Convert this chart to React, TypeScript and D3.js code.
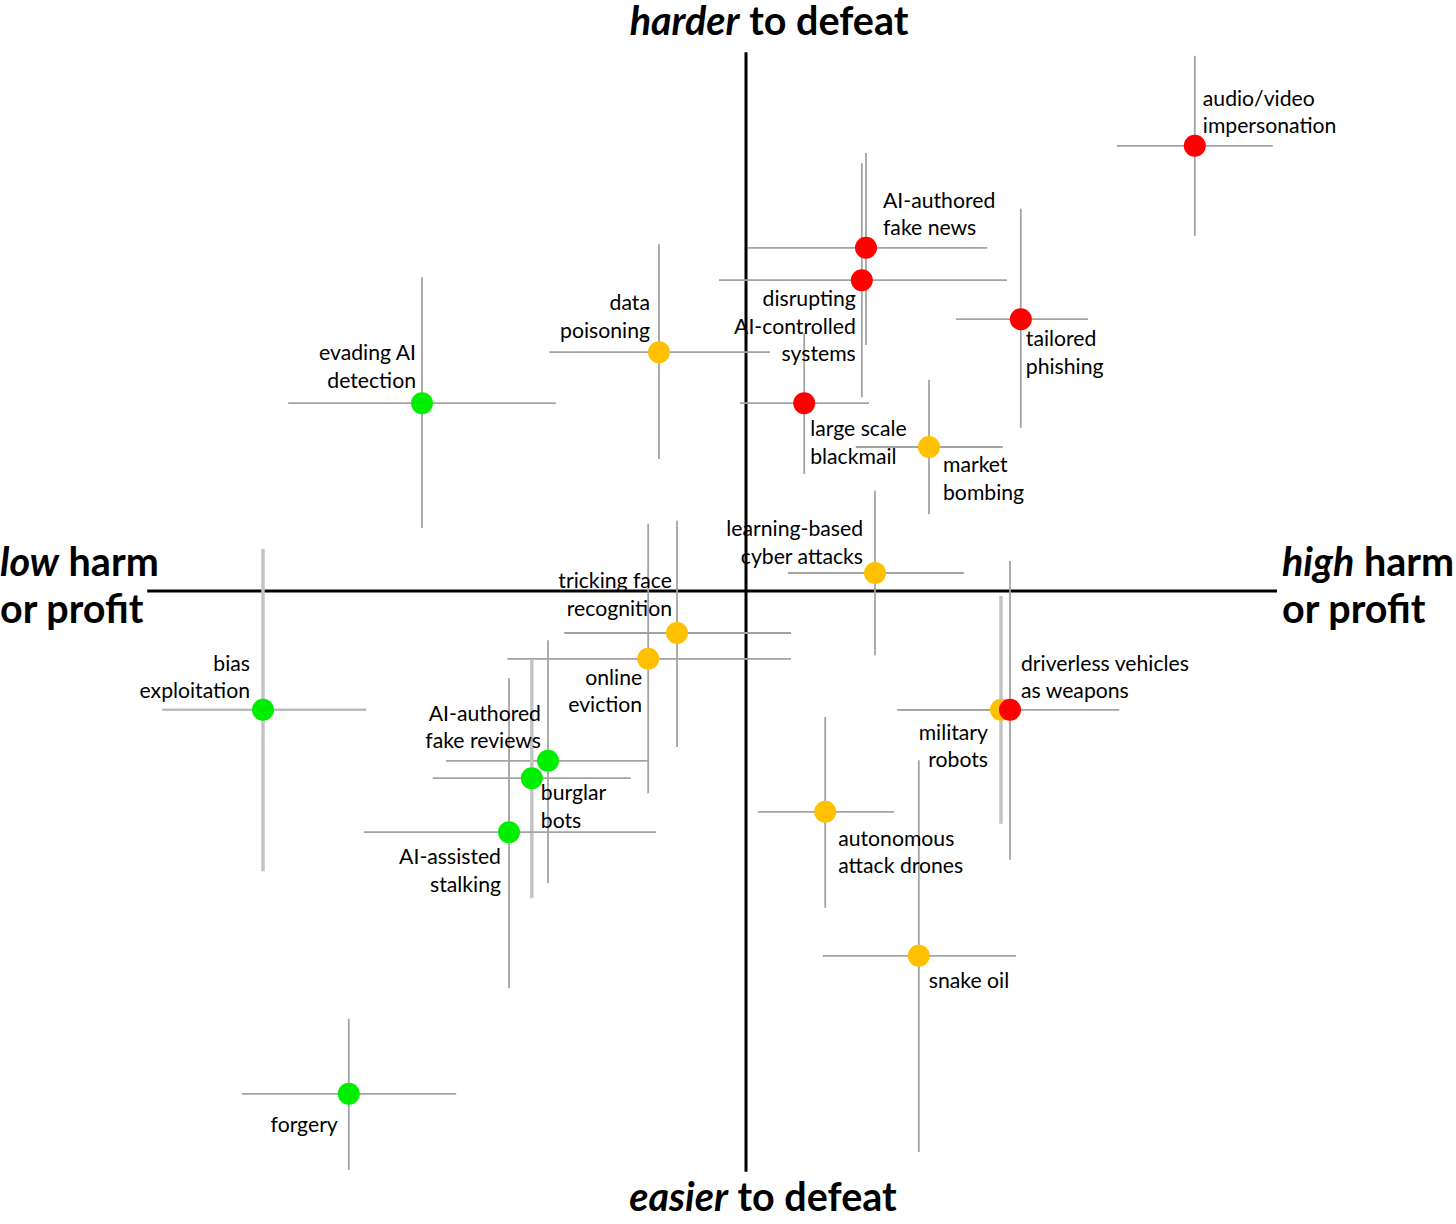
import React from "react";
import * as d3 from "d3";

// ---- data (harm/profit on x, difficulty to defeat on y; scale -10..10) ----
const names = [
  "audio/video impersonation",
  "AI-authored fake news",
  "disrupting AI-controlled systems",
  "tailored phishing",
  "large scale blackmail",
  "market bombing",
  "data poisoning",
  "evading AI detection",
  "learning-based cyber attacks",
  "tricking face recognition",
  "online eviction",
  "AI-authored fake reviews",
  "burglar bots",
  "AI-assisted stalking",
  "bias exploitation",
  "forgery",
  "military robots",
  "driverless vehicles as weapons",
  "autonomous attack drones",
  "snake oil",
];
const labelLines = [
  ["audio/video", "impersonation"],
  ["AI-authored", "fake news"],
  ["disrupting", "AI-controlled", "systems"],
  ["tailored", "phishing"],
  ["large scale", "blackmail"],
  ["market", "bombing"],
  ["data", "poisoning"],
  ["evading AI", "detection"],
  ["learning-based", "cyber attacks"],
  ["tricking face", "recognition"],
  ["online", "eviction"],
  ["AI-authored", "fake reviews"],
  ["burglar", "bots"],
  ["AI-assisted", "stalking"],
  ["bias", "exploitation"],
  ["forgery"],
  ["military", "robots"],
  ["driverless vehicles", "as weapons"],
  ["autonomous", "attack drones"],
  ["snake oil"],
];
const severity = ["high", "high", "high", "high", "high", "medium", "medium", "low", "medium", "medium",
  "medium", "low", "low", "low", "low", "low", "medium", "high", "medium", "medium"];
const harm = [7.48, 2.0, 1.93, 4.58, 0.97, 3.05, -1.45, -5.4, 2.15, -1.15, -1.63, -3.3, -3.57, -3.95, -8.05, -6.62, 4.25, 4.4, 1.32, 2.88];
const harmLo = [6.18, 0.03, -0.45, 3.5, -0.1, 1.83, -3.28, -7.63, 0.7, -3.03, -3.98, -5.0, -5.22, -6.37, -9.73, -8.4, 2.55, 2.52, 0.2, 1.28];
const harmHi = [8.78, 4.02, 4.35, 5.7, 2.05, 4.28, 0.4, -3.17, 3.63, 0.75, 0.75, -1.62, -1.92, -1.5, -6.33, -4.83, 4.4, 6.22, 2.47, 4.5];
const defeat = [7.42, 5.72, 5.18, 4.53, 3.13, 2.4, 3.98, 3.13, 0.3, -0.7, -1.13, -2.83, -3.12, -4.02, -1.98, -8.38, -1.98, -1.98, -3.68, -6.08];
const defeatLo = [5.92, 4.1, 3.23, 2.72, 1.95, 1.28, 2.2, 1.05, -1.07, -2.6, -3.37, -4.87, -5.12, -6.62, -4.67, -9.65, -3.88, -4.48, -5.28, -9.35];
const defeatHi = [8.92, 7.3, 7.13, 6.37, 4.3, 3.52, 5.78, 5.23, 1.67, 1.17, 1.12, -0.82, -1.15, -1.45, 0.7, -7.13, -0.08, 0.5, -2.1, -2.82];
const xAxisLow = ["low", " harm", "or profit"];
const xAxisHigh = ["high", " harm", "or profit"];
const yAxisTop = ["harder", " to defeat"];
const yAxisBottom = ["easier", " to defeat"];

// ---- layout (label placement relative to each point) ----
const labelLayout: { anchor: string; dx: number; dy: number }[] = [
  { anchor: "start", dx: 8, dy: -48 },
  { anchor: "start", dx: 17, dy: -48 },
  { anchor: "end", dx: -6, dy: 18 },
  { anchor: "start", dx: 5, dy: 19 },
  { anchor: "start", dx: 6, dy: 25 },
  { anchor: "start", dx: 14, dy: 17 },
  { anchor: "end", dx: -9, dy: -50 },
  { anchor: "end", dx: -6, dy: -51 },
  { anchor: "end", dx: -12, dy: -45 },
  { anchor: "end", dx: -5, dy: -53 },
  { anchor: "end", dx: -6, dy: 18 },
  { anchor: "end", dx: -7, dy: -48 },
  { anchor: "start", dx: 9, dy: 14 },
  { anchor: "end", dx: -8, dy: 24 },
  { anchor: "end", dx: -13, dy: -47 },
  { anchor: "end", dx: -11, dy: 30 },
  { anchor: "end", dx: -13, dy: 22 },
  { anchor: "start", dx: 11, dy: -47 },
  { anchor: "start", dx: 13, dy: 26 },
  { anchor: "start", dx: 10, dy: 24 },
];
const softWhiskers = new Set([12, 14, 16]);

const W = 1456;
const H = 1224;
const FONT = "Lato, 'Open Sans', sans-serif";
const LABEL_SIZE = 21.2;
const TITLE_SIZE = 39.5;

export default function App() {
  const x = d3.scaleLinear().domain([-10, 10]).range([146, 1346]);
  const y = d3.scaleLinear().domain([-10, 10]).range([1191, -9]);
  const color = d3.scaleOrdinal<string, string>().domain(["high", "medium", "low"]).range(["#ff0000", "#ffc000", "#00ee00"]);

  const idx = d3.range(names.length);
  const lineH = 27.5;

  return (
    <svg width={W} height={H} style={{ position: "absolute", left: 0, top: 0, background: "#fff" }} fontFamily={FONT}>
      {/* axes */}
      <line x1={x(-9.98)} x2={x(8.85)} y1={y(0)} y2={y(0)} stroke="#000" strokeWidth={3} />
      <line x1={x(0)} x2={x(0)} y1={y(8.98)} y2={y(-9.68)} stroke="#000" strokeWidth={3} />

      {/* whiskers */}
      {idx.map((i) => {
        const soft = softWhiskers.has(i);
        const st = soft ? "#c4c4c4" : "#a3a3a3";
        const sw = soft ? 3.5 : 1.8;
        return (
          <g key={"w" + i}>
            <line x1={x(harmLo[i])} x2={x(harmHi[i])} y1={y(defeat[i])} y2={y(defeat[i])} stroke={i === 14 ? "#bdbdbd" : "#a3a3a3"} strokeWidth={i === 14 ? 2.5 : 1.8} />
            <line x1={x(harm[i])} x2={x(harm[i])} y1={y(defeatHi[i])} y2={y(defeatLo[i])} stroke={st} strokeWidth={sw} />
          </g>
        );
      })}

      {/* dots */}
      {idx.map((i) => (
        <circle key={"c" + i} cx={x(harm[i])} cy={y(defeat[i])} r={11} fill={color(severity[i])} />
      ))}

      {/* labels */}
      {idx.map((i) => {
        const L = labelLayout[i];
        return (
          <text key={"t" + i} x={x(harm[i]) + L.dx} textAnchor={L.anchor} fontSize={LABEL_SIZE} fill="#000">
            {labelLines[i].map((ln, k) => (
              <tspan key={k} x={x(harm[i]) + L.dx} y={y(defeat[i]) + L.dy + k * lineH} dominantBaseline="central">
                {ln}
              </tspan>
            ))}
          </text>
        );
      })}

      {/* axis titles */}
      <text x={769} y={35} textAnchor="middle" fontSize={TITLE_SIZE} fontWeight="bold">
        <tspan fontStyle="italic">{yAxisTop[0]}</tspan>
        <tspan>{yAxisTop[1]}</tspan>
      </text>
      <text x={763} y={1211} textAnchor="middle" fontSize={TITLE_SIZE} fontWeight="bold">
        <tspan fontStyle="italic">{yAxisBottom[0]}</tspan>
        <tspan>{yAxisBottom[1]}</tspan>
      </text>
      <text x={0} y={576} fontSize={TITLE_SIZE} fontWeight="bold">
        <tspan fontStyle="italic">{xAxisLow[0]}</tspan>
        <tspan>{xAxisLow[1]}</tspan>
      </text>
      <text x={0} y={623} fontSize={TITLE_SIZE} fontWeight="bold">{xAxisLow[2]}</text>
      <text x={1282} y={576} fontSize={TITLE_SIZE} fontWeight="bold">
        <tspan fontStyle="italic">{xAxisHigh[0]}</tspan>
        <tspan>{xAxisHigh[1]}</tspan>
      </text>
      <text x={1282} y={623} fontSize={TITLE_SIZE} fontWeight="bold">{xAxisHigh[2]}</text>
    </svg>
  );
}
